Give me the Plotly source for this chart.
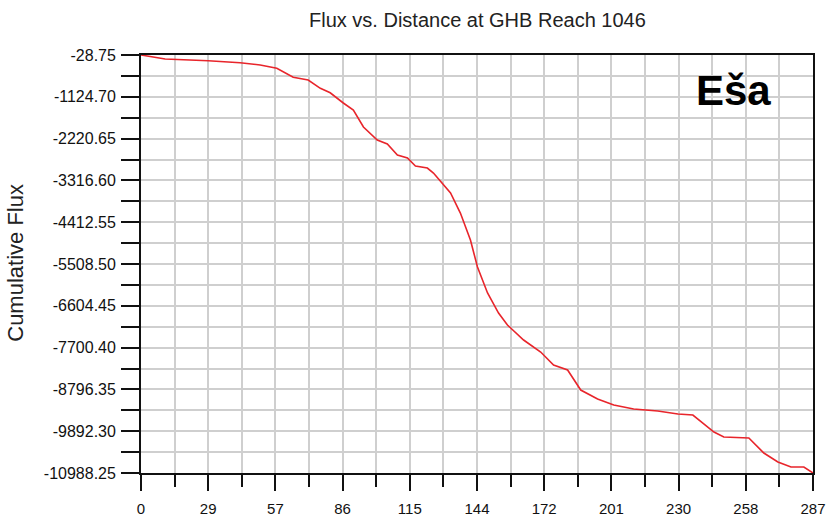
import plotly.graph_objects as go

distance = [0, 3.85, 10.3, 28.7, 42.3, 50.9, 58.0, 65.0, 71.4, 76.6, 80.8, 86.4, 90.7, 95.0,
            100.9, 105.2, 109.5, 113.8, 117.2, 122.3, 124.9, 132.2, 136.4, 140.7, 143.7, 148.0,
            152.7, 156.5, 163.4, 170.7, 176.2, 182.2, 187.8, 195.0, 201.9, 210.4, 220.7, 229.3,
            235.7, 244.7, 248.9, 259.6, 266.0, 272.0, 277.6, 283.1, 287.0]
cum_flux = [-28.75, -73, -134, -178, -231, -291, -377, -613, -684, -902, -1020, -1287, -1471, -1917,
            -2257, -2362, -2651, -2730, -2939, -2992, -3123, -3647, -4172, -4880, -5588, -6269,
            -6794, -7108, -7502, -7816, -8157, -8288, -8813, -9049, -9206, -9311, -9363, -9442,
            -9468, -9914, -10045, -10071, -10465, -10701, -10832, -10832, -10988.25]

x_tickvals = [0, 28.7, 57.4, 86.1, 114.8, 143.5, 172.2, 200.9, 229.6, 258.3, 287]
x_ticktext = ["0", "29", "57", "86", "115", "144", "172", "201", "230", "258", "287"]
y_tickvals = [-28.75, -1124.70, -2220.65, -3316.60, -4412.55, -5508.50, -6604.45,
              -7700.40, -8796.35, -9892.30, -10988.25]
y_ticktext = ["-28.75", "-1124.70", "-2220.65", "-3316.60", "-4412.55", "-5508.50", "-6604.45",
              "-7700.40", "-8796.35", "-9892.30", "-10988.25"]

title_text = "Flux vs. Distance at GHB Reach 1046"
y_title = "Cumulative Flux"
label_text = "Eša"

fig = go.Figure()
fig.add_trace(go.Scatter(x=distance, y=cum_flux, mode="lines",
                         line=dict(color="#e8252b", width=1.6), hoverinfo="skip"))

font_family = "Liberation Sans, Arial, sans-serif"
fig.update_layout(
    width=831, height=524, autosize=False,
    margin=dict(l=141, r=18, t=55, b=51, pad=0, autoexpand=False),
    paper_bgcolor="white", plot_bgcolor="white",
    showlegend=False,
    font=dict(family=font_family, size=13, color="#111"),
)
fig.update_xaxes(
    range=[0, 287], tickmode="array", tickvals=x_tickvals, ticktext=x_ticktext,
    showline=True, linecolor="#111", linewidth=1.8, mirror=True, automargin=False,
    ticks="outside", ticklen=16, tickwidth=1.5, tickcolor="#111",
    showgrid=True, gridcolor="#cfcfcf", gridwidth=1.5, zeroline=False,
    tickfont=dict(size=15, family=font_family), ticklabelstandoff=5,
    minor=dict(tick0=0, dtick=14.35, ticks="outside", ticklen=12, tickwidth=1.5,
               tickcolor="#111", showgrid=True, gridcolor="#cfcfcf", gridwidth=1.5),
)
fig.update_yaxes(
    range=[-10988.25, -28.75], tickmode="array", tickvals=y_tickvals, ticktext=y_ticktext,
    showline=True, linecolor="#111", linewidth=1.8, mirror=True, automargin=False,
    ticks="outside", ticklen=18, tickwidth=1.5, tickcolor="#111",
    showgrid=True, gridcolor="#cfcfcf", gridwidth=1.5, zeroline=False,
    tickfont=dict(size=16, family=font_family), ticklabelstandoff=2,
    minor=dict(tick0=-28.75, dtick=547.975, ticks="outside", ticklen=18, tickwidth=1.5,
               tickcolor="#111", showgrid=True, gridcolor="#cfcfcf", gridwidth=1.5),
)
fig.add_annotation(text=title_text, xref="paper", yref="paper", x=0.5, y=1.0,
                   xanchor="center", yanchor="middle", yshift=35, showarrow=False,
                   font=dict(size=20, family=font_family, color="#222"))
fig.add_annotation(text=y_title, xref="paper", yref="paper", x=-0.186, y=0.503,
                   xanchor="center", yanchor="middle",
                   textangle=-90, showarrow=False, font=dict(size=22, family=font_family, color="#222"))
fig.add_annotation(text="<b>" + label_text + "</b>", xref="paper", yref="paper", x=0.881, y=0.916,
                   xanchor="center", yanchor="middle",
                   showarrow=False, font=dict(size=42, family=font_family, color="black"))

fig.write_html("out.html", config={"displayModeBar": False, "responsive": False},
               post_script="document.body.style.margin='0';")
